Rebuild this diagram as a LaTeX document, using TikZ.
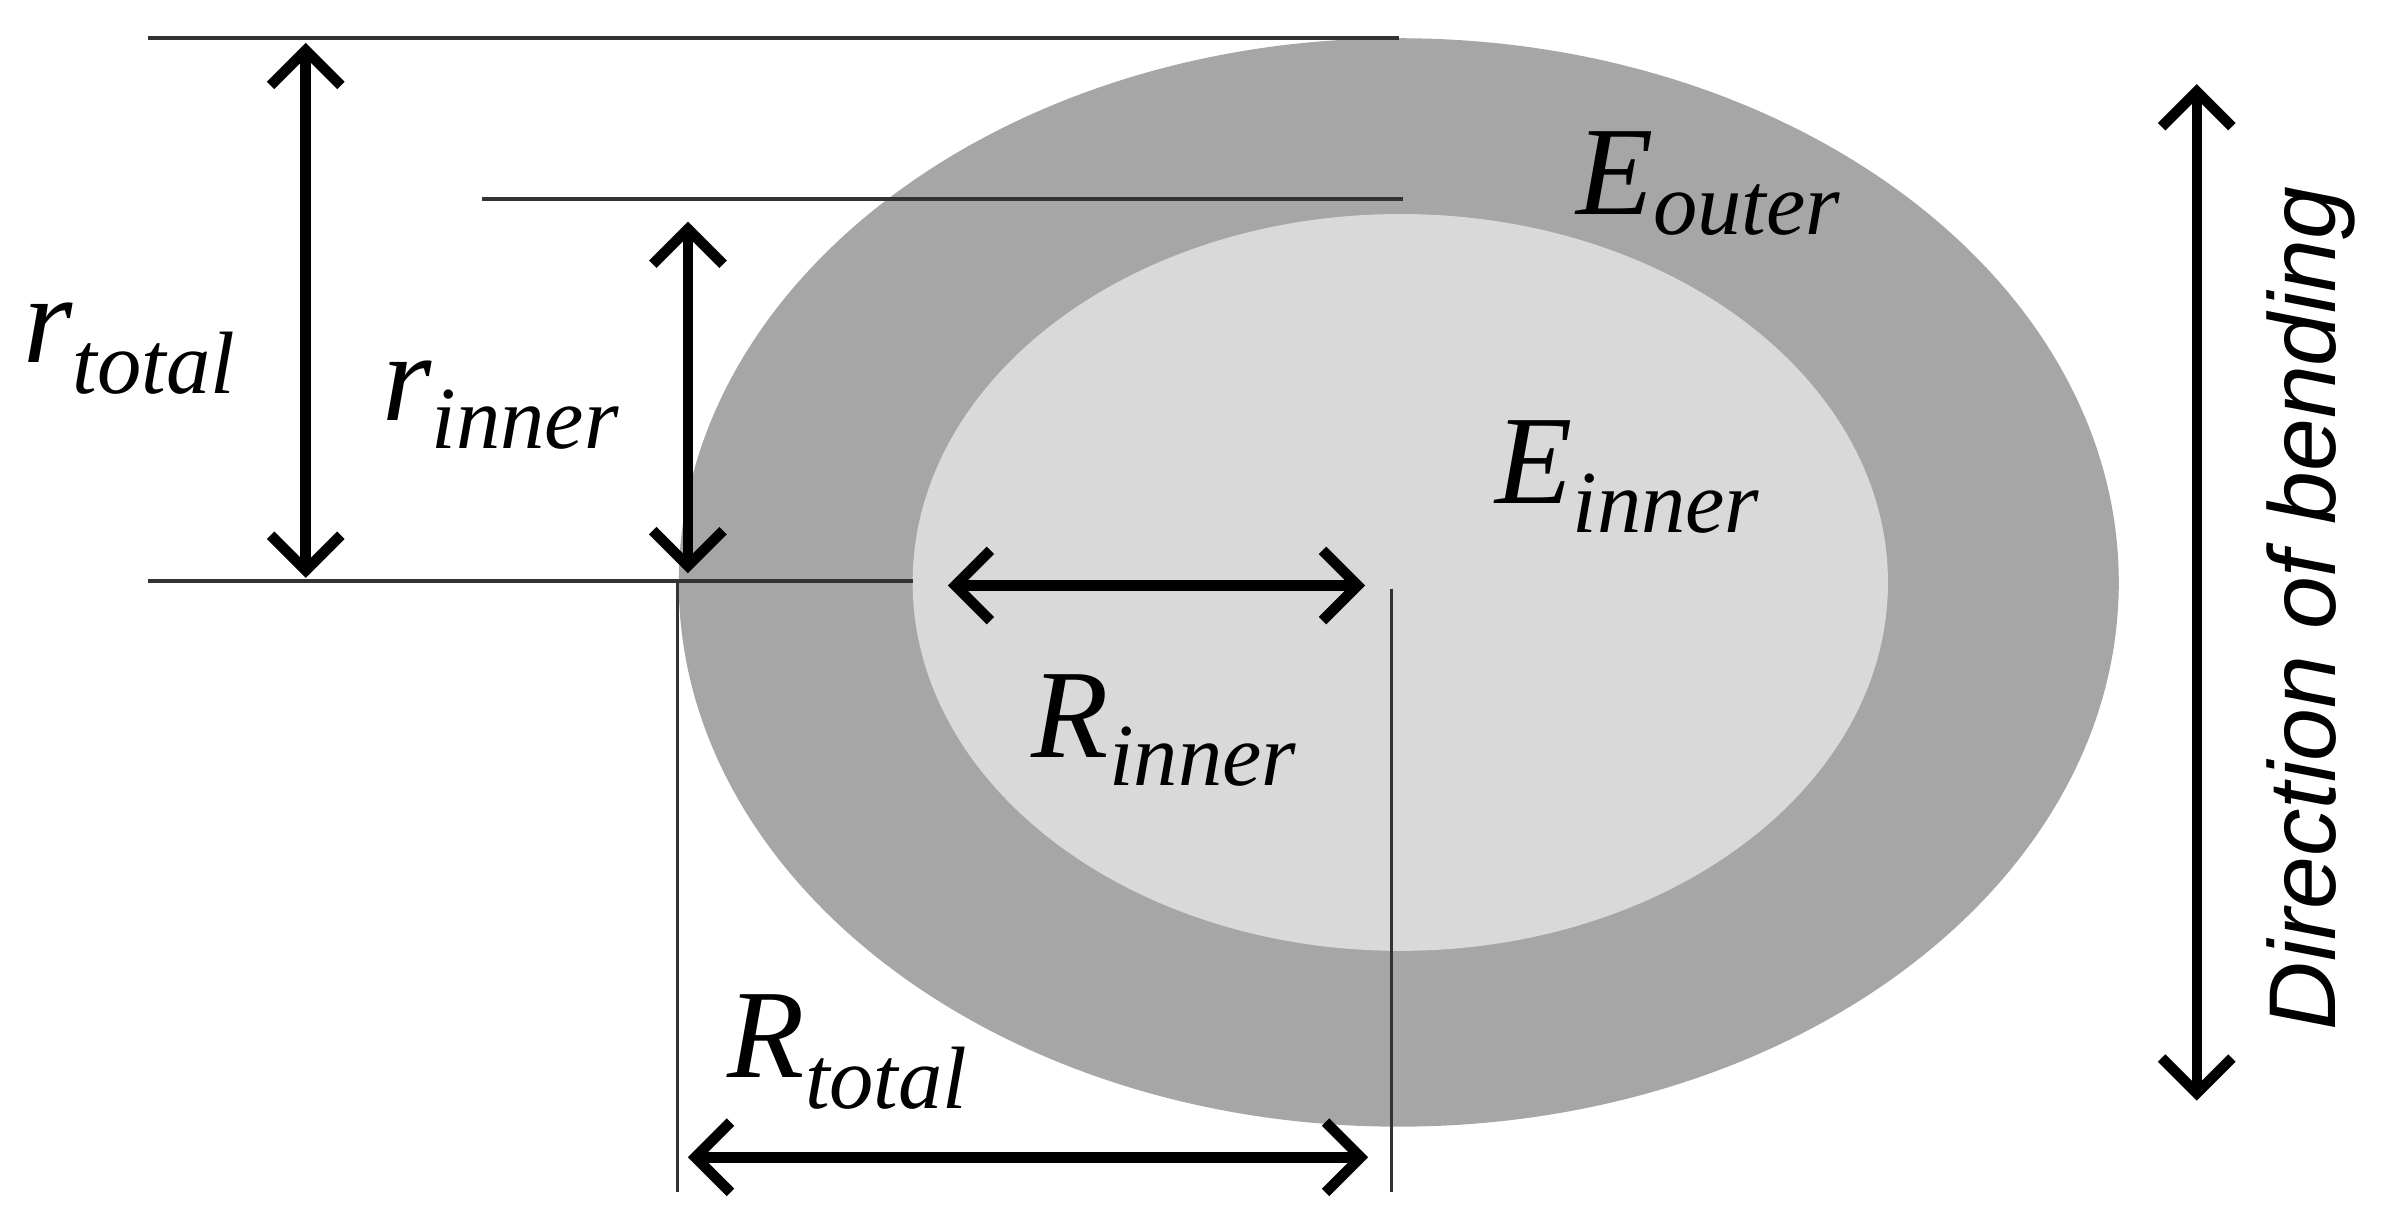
\documentclass[tikz,border=0pt]{standalone}
\usepackage{fontspec}
\setmainfont{Liberation Serif}
\newfontfamily\dirfont{Liberation Sans}
\usetikzlibrary{arrows.meta}
\definecolor{outergray}{RGB}{166,166,166}
\definecolor{innergray}{RGB}{217,217,217}
\tikzstyle{guide}=[line width=1.2pt,black!80]
\tikzstyle{dim}=[line width=3pt,{Straight Barb[length=10pt,width=20pt]}-{Straight Barb[length=10pt,width=20pt]}]
\tikzstyle{lbl}=[font=\fontsize{36}{40}\selectfont\itshape,inner sep=0pt]

\begin{document}
\begin{tikzpicture}[x=0.01529cm,y=-0.01529cm]

      \useasboundingbox (0,0) rectangle (1568,800);

      % cross-section
      \fill[outergray] (915,381) ellipse (471 and 356);
      \fill[innergray] (916,381) ellipse (319 and 241);

      % guide lines
      \coordinate (t1) at (97,25);   \coordinate (t2) at (915,25);
      \coordinate (m1) at (315,130); \coordinate (m2) at (918,130);
      \coordinate (b1) at (97,380);  \coordinate (b2) at (597,380);
      \coordinate (l1) at (443,380); \coordinate (l2) at (443,780);
      \coordinate (c1) at (910,385); \coordinate (c2) at (910,780);
      \draw[guide] (t1) -- (t2);
      \draw[guide] (m1) -- (m2);
      \draw[guide] (b1) -- (b2);
      \draw[guide,line width=0.8pt] (l1) -- (l2);
      \draw[guide,line width=0.8pt] (c1) -- (c2);

      % dimension arrows
      \coordinate (rt1) at (200,28);  \coordinate (rt2) at (200,378);
      \coordinate (ri1) at (450,145); \coordinate (ri2) at (450,375);
      \coordinate (Ri1) at (620,383); \coordinate (Ri2) at (893,383);
      \coordinate (Rt1) at (450,757); \coordinate (Rt2) at (895,757);
      \coordinate (d1) at (1437,55);  \coordinate (d2) at (1437,720);
      \draw[dim] (rt1) -- (rt2);
      \draw[dim] (ri1) -- (ri2);
      \draw[dim] (Ri1) -- (Ri2);
      \draw[dim] (Rt1) -- (Rt2);
      \draw[dim] (d1) -- (d2);

      % labels
      \node[lbl] (rtotal) at (85,228) {r\textsubscript{total}};
      \node[lbl] (rinner) at (328,265) {r\textsubscript{inner}};
      \node[lbl] (Eouter) at (1118,120) {E\textsubscript{outer}};
      \node[lbl] (Einner) at (1065,312) {E\textsubscript{inner}};
      \node[lbl] (Rinner) at (762,478) {R\textsubscript{inner}};
      \node[lbl] (Rtotal) at (555,688) {R\textsubscript{total}};
      \node[font=\dirfont\fontsize{27}{32}\selectfont\itshape,rotate=90] (dir) at (1512,398) {Direction of bending};

\end{tikzpicture}
\end{document}
